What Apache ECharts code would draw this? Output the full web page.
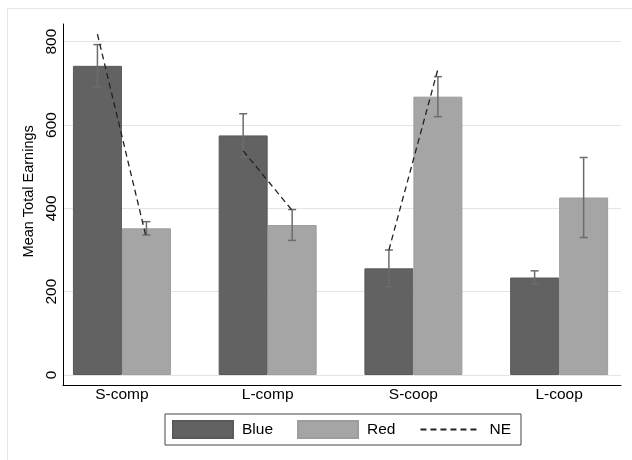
<!DOCTYPE html>
<html>
<head>
<meta charset="utf-8">
<script src="https://cdn.jsdelivr.net/npm/echarts@6/dist/echarts.min.js"></script>
<style>html,body{margin:0;padding:0;background:#fff;}#chart{width:632px;height:460px;}</style>
</head>
<body>
<div id="chart"></div>
<script>
// ---- data ----
const categories = ['S-comp', 'L-comp', 'S-coop', 'L-coop'];
const blueMean = [742, 575, 256, 234];
const redMean  = [352, 360, 668, 426];
const blueErr  = [51, 52, 44, 16];
const redErr   = [16, 37, 48, 96];
const neBlue   = [818, 538, 300, null];
const neRed    = [328, 395, 734, null];
const yTicks   = [0, 200, 400, 600, 800];

// ---- styling ----
const FONT = "'Liberation Sans', Arial, Helvetica, sans-serif";
const BAR_W = 49;
const CAP_W = 8;
const BLUE = '#626262';
const RED = '#a5a5a5';
const ERR_COLOR = '#6c6c6c';

const errData = [];
categories.forEach((c, i) => {
  errData.push([i, blueMean[i] - blueErr[i], blueMean[i] + blueErr[i], -1]);
  errData.push([i, redMean[i] - redErr[i], redMean[i] + redErr[i], 1]);
});
const neData = [];
categories.forEach((c, i) => {
  if (neBlue[i] != null && neRed[i] != null) neData.push([i, neBlue[i], neRed[i]]);
});

const chart = echarts.init(document.getElementById('chart'), null, {renderer: 'canvas'});
const option = {
  animation: false,
  backgroundColor: '#fff',
  textStyle: {fontFamily: FONT},
  graphic: [{
    type: 'rect', silent: true, z: -10,
    shape: {x: 7.5, y: 8.5, width: 800, height: 800},
    style: {fill: 'none', stroke: '#e6e6e6', lineWidth: 1}
  }],
  grid: [
    {left: 63, right: 11, top: 41.67, height: 333.33},   // gridlines & labels
    {left: 63, right: 11, top: 24, bottom: 75},           // axis lines
    {left: 49.07, width: 585.9, top: 41.67, height: 333.33} // bars
  ],
  xAxis: [
    {gridIndex: 0, type: 'value', show: false, min: 0, max: 1},
    {gridIndex: 1, type: 'value', min: 0, max: 1,
      axisLine: {show: true, onZero: false, lineStyle: {color: '#000', width: 1}},
      axisTick: {show: false}, axisLabel: {show: false}, splitLine: {show: false}},
    {gridIndex: 2, type: 'category', data: categories,
      axisLine: {show: false}, axisTick: {show: false},
      axisLabel: {fontSize: 15.5, color: '#000', margin: 12, fontFamily: FONT}}
  ],
  yAxis: [
    {gridIndex: 0, type: 'value', min: yTicks[0], max: yTicks[yTicks.length - 1], interval: 200,
      axisLine: {show: false}, axisTick: {show: false},
      axisLabel: {rotate: 90, fontSize: 15.5, color: '#000', margin: 3, fontFamily: FONT},
      splitLine: {show: true, lineStyle: {color: '#e4e4e4', width: 1}},
      name: 'Mean Total Earnings', nameLocation: 'middle', nameGap: 18,
      nameTextStyle: {fontSize: 14.5, color: '#000', fontFamily: FONT, padding: [0, 0, 0, 34]}},
    {gridIndex: 1, type: 'value', min: 0, max: 1,
      axisLine: {show: true, onZero: false, lineStyle: {color: '#000', width: 1}},
      axisTick: {show: false}, axisLabel: {show: false}, splitLine: {show: false}},
    {gridIndex: 2, type: 'value', show: false, min: 0, max: 800}
  ],
  legend: {
    left: 165, top: 414,
    orient: 'horizontal',
    padding: [6, 10, 6, 7],
    itemGap: 24,
    itemWidth: 60, itemHeight: 17,
    borderColor: '#444', borderWidth: 1,
    textStyle: {fontSize: 15.5, color: '#000', fontFamily: FONT, padding: [0, 0, 0, 4]},
    data: [
      {name: 'Blue', icon: 'rect'},
      {name: 'Red', icon: 'rect'},
      {name: 'NE', itemStyle: {color: 'rgba(0,0,0,0)', borderColor: 'rgba(0,0,0,0)', borderWidth: 0, opacity: 0}}
    ]
  },
  series: [
    {name: 'Blue', type: 'bar', xAxisIndex: 2, yAxisIndex: 2, data: blueMean,
      barWidth: BAR_W, barGap: '0%',
      itemStyle: {color: BLUE, borderColor: '#5a5a5a', borderWidth: 1}},
    {name: 'Red', type: 'bar', xAxisIndex: 2, yAxisIndex: 2, data: redMean,
      barWidth: BAR_W, barGap: '0%',
      itemStyle: {color: RED, borderColor: '#9d9d9d', borderWidth: 1}},
    {name: 'NE', type: 'line', xAxisIndex: 2, yAxisIndex: 2, data: [],
      symbol: 'none', symbolSize: 0, lineStyle: {color: '#222', width: 1.3, type: [6, 4]}, itemStyle: {color: '#222'}},
    {name: 'errbars', type: 'custom', xAxisIndex: 2, yAxisIndex: 2, data: errData, z: 5,
      renderItem: function (params, api) {
        const i = api.value(0), side = api.value(3);
        const lo = api.coord([i, api.value(1)]);
        const hi = api.coord([i, api.value(2)]);
        const x = lo[0] + side * BAR_W / 2;
        const st = {stroke: ERR_COLOR, lineWidth: 1.5, fill: 'none'};
        return {type: 'group', children: [
          {type: 'line', shape: {x1: x, y1: lo[1], x2: x, y2: hi[1]}, style: st},
          {type: 'line', shape: {x1: x - CAP_W / 2, y1: hi[1], x2: x + CAP_W / 2, y2: hi[1]}, style: st},
          {type: 'line', shape: {x1: x - CAP_W / 2, y1: lo[1], x2: x + CAP_W / 2, y2: lo[1]}, style: st}
        ]};
      }},
    {name: 'neline', type: 'custom', xAxisIndex: 2, yAxisIndex: 2, data: neData, z: 6,
      renderItem: function (params, api) {
        const i = api.value(0);
        const a = api.coord([i, api.value(1)]);
        const b = api.coord([i, api.value(2)]);
        return {type: 'line',
          shape: {x1: a[0] - BAR_W / 2, y1: a[1], x2: b[0] + BAR_W / 2, y2: b[1]},
          style: {stroke: '#222', lineWidth: 1.3, lineDash: [6, 4], fill: 'none'}};
      }}
  ]
};
chart.setOption(option);
</script>
</body>
</html>
